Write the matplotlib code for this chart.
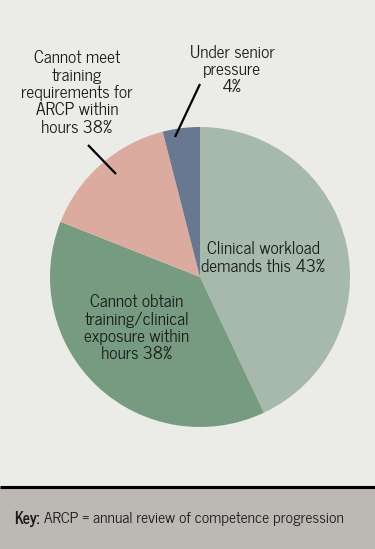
import matplotlib
matplotlib.use("Agg")
import matplotlib.pyplot as plt
from matplotlib.patches import Rectangle

categories = ["Clinical workload demands this", "Cannot obtain training/clinical exposure within hours",
              "Cannot meet training requirements for ARCP within hours", "Under senior pressure"]
values = [43, 38, 15, 4]
labels = ["Clinical workload\ndemands this 43%",
          "Cannot obtain\ntraining/clinical\nexposure within\nhours 38%",
          "Cannot meet\ntraining\nrequirements for\nARCP within\nhours 38%",
          "Under senior\npressure\n4%"]
colors = ["#a7b9aa", "#769b80", "#dcaba0", "#687891"]

W, H = 375, 549
FONT = ["News Cycle", "DejaVu Sans"]
fig = plt.figure(figsize=(W / 100, H / 100), dpi=100)
fig.patch.set_facecolor("#ebebe7")
ax = fig.add_axes([0, 0, 1, 1])

def Y(y):
    return H - y

ax.pie(values, colors=colors, startangle=90, counterclock=False,
       center=(200, Y(277)), radius=150, wedgeprops=dict(linewidth=0))
ax.set_xlim(0, W)
ax.set_ylim(0, H)
ax.set_aspect("equal")
ax.axis("off")

fs = 12.5
ls = 1.1
ax.text(263, Y(258), labels[0], ha="center", va="center", fontsize=fs, family=FONT,
        color="#1a1a1a", linespacing=ls)
ax.text(137, Y(328), labels[1], ha="center", va="center", fontsize=fs, family=FONT,
        color="#1a1a1a", linespacing=ls)
ax.text(77, Y(93), labels[2], ha="center", va="center", fontsize=fs, family=FONT,
        color="#1a1a1a", linespacing=ls)
ax.text(232, Y(70), labels[3], ha="center", va="center", fontsize=fs, family=FONT,
        color="#1a1a1a", linespacing=ls)

ax.plot([200, 175], [Y(84), Y(137)], color="black", lw=1.6, solid_capstyle="butt")
ax.plot([88, 116], [Y(145), Y(174)], color="black", lw=1.6, solid_capstyle="butt")

# key band
ax.add_patch(Rectangle((0, 0), W, Y(487), facecolor="#bcb8b3", edgecolor="none", zorder=0))
ax.plot([0, W], [Y(487), Y(487)], color="black", lw=2.2, solid_capstyle="butt")
t = ax.text(14, Y(519), "Key:", ha="left", va="center", fontsize=11.2, family=FONT,
            fontweight="bold", color="#1a1a1a")
fig.canvas.draw()
bb = t.get_window_extent()
ax.text(bb.x1 + 5, Y(519), "ARCP = annual review of competence progression", ha="left",
        va="center", fontsize=11.2, family=FONT, color="#1a1a1a")

fig.savefig("out.png", dpi=100, facecolor=fig.get_facecolor())
